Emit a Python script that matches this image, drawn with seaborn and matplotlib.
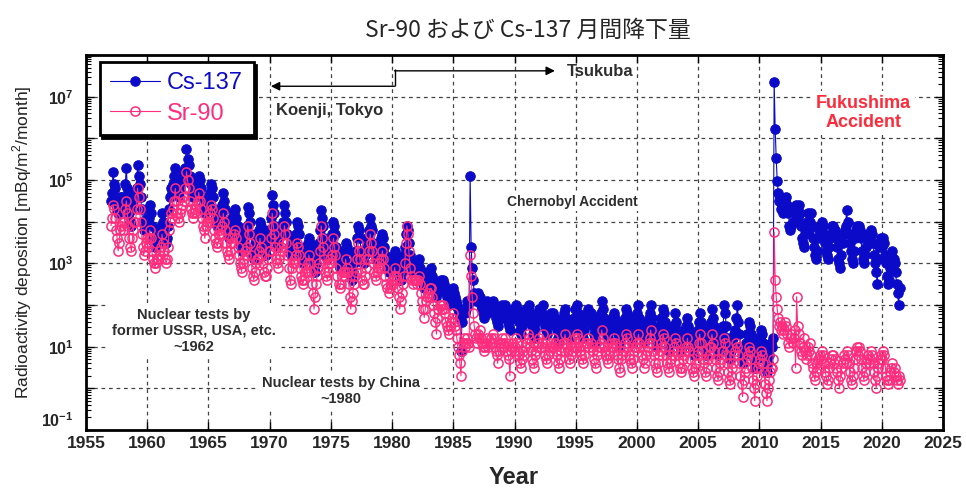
import numpy as np
import pandas as pd
import matplotlib
matplotlib.use("Agg")
import matplotlib.pyplot as plt
import seaborn as sns
from matplotlib.ticker import FixedLocator, FuncFormatter, LogLocator, NullFormatter

# ---------------- data (log10 of mBq/m2/month), monthly from Jan 1957 ----------------
start_year = 1957
cs137_log10 = [
    4.5, 4.7, 5.2, 4.9, 4.8, 4.4, 4.3, 4.2, 4.4, 4.6, 4.5, 4.6,   # 1957
    4.4, 4.6, 4.9, 5.3, 4.8, 4.6, 4.2, 4.0, 3.9, 4.3, 4.5, 4.7,   # 1958
    4.6, 4.8, 5.35, 5.1, 4.9, 4.6, 4.3, 4.0, 3.8, 3.9, 4.0, 4.1,  # 1959
    3.9, 4.1, 4.4, 4.2, 3.9, 3.6, 3.5, 3.4, 3.5, 3.7, 3.6, 3.8,   # 1960
    3.7, 3.9, 4.2, 4.0, 3.8, 3.6, 3.5, 3.6, 3.9, 4.3, 4.6, 4.8,   # 1961
    4.7, 4.9, 5.1, 5.3, 5.0, 4.8, 4.7, 4.6, 4.8, 4.9, 5.0, 5.2,   # 1962
    5.1, 5.3, 5.75, 5.5, 5.35, 5.1, 4.9, 4.7, 4.6, 4.7, 4.8, 4.9, # 1963
    4.8, 5.0, 5.1, 5.0, 4.8, 4.6, 4.4, 4.3, 4.2, 4.4, 4.5, 4.6,   # 1964
    4.5, 4.7, 4.9, 4.8, 4.6, 4.3, 4.1, 4.0, 3.9, 4.0, 4.2, 4.3,   # 1965
    4.2, 4.4, 4.7, 4.5, 4.3, 4.0, 3.8, 3.7, 3.6, 3.8, 4.0, 4.1,   # 1966
    4.0, 4.2, 4.3, 4.1, 3.9, 3.7, 3.5, 3.4, 3.3, 3.5, 3.6, 3.8,   # 1967
    3.7, 3.9, 4.35, 4.2, 4.0, 3.7, 3.4, 3.2, 3.1, 3.3, 3.5, 3.6,  # 1968
    3.6, 3.8, 4.0, 3.9, 3.7, 3.5, 3.3, 3.2, 3.2, 3.4, 3.6, 3.8,   # 1969
    3.8, 4.1, 4.65, 4.4, 4.2, 3.9, 3.6, 3.5, 3.4, 3.6, 3.7, 3.9,  # 1970
    3.8, 4.0, 4.4, 4.2, 4.0, 3.7, 3.4, 3.3, 3.2, 3.4, 3.5, 3.6,   # 1971
    3.5, 3.7, 4.0, 3.9, 3.7, 3.4, 3.2, 3.1, 3.0, 3.1, 3.3, 3.4,   # 1972
    3.3, 3.5, 3.6, 3.5, 3.3, 3.1, 2.9, 2.9, 2.8, 3.0, 3.2, 3.4,   # 1973
    3.5, 3.8, 4.27, 4.1, 3.9, 3.6, 3.3, 3.2, 3.1, 3.3, 3.5, 3.6,  # 1974
    3.5, 3.7, 4.0, 3.9, 3.7, 3.4, 3.2, 3.0, 2.9, 3.0, 3.2, 3.3,   # 1975
    3.2, 3.3, 3.5, 3.4, 3.3, 3.0, 2.8, 2.7, 2.6, 2.8, 3.0, 3.2,   # 1976
    3.3, 3.6, 3.9, 3.8, 3.6, 3.3, 3.1, 3.0, 3.0, 3.2, 3.4, 3.6,   # 1977
    3.6, 3.8, 4.1, 3.9, 3.8, 3.5, 3.3, 3.2, 3.1, 3.3, 3.4, 3.5,   # 1978
    3.4, 3.6, 3.7, 3.6, 3.4, 3.2, 3.0, 2.9, 2.8, 2.9, 3.0, 3.1,   # 1979
    3.0, 3.2, 3.3, 3.2, 3.1, 2.9, 2.7, 2.6, 2.6, 2.8, 3.0, 3.2,   # 1980
    3.4, 3.7, 3.9, 3.8, 3.5, 3.2, 3.0, 2.9, 2.8, 2.9, 3.0, 3.0,   # 1981
    2.9, 3.0, 3.1, 2.9, 2.8, 2.6, 2.5, 2.4, 2.5, 2.6, 2.7, 2.8,   # 1982
    2.7, 2.8, 2.9, 2.7, 2.6, 2.4, 2.3, 2.2, 2.3, 2.4, 2.5, 2.6,   # 1983
    2.5, 2.6, 2.5, 2.4, 2.3, 2.2, 2.1, 2.0, 2.1, 2.2, 2.3, 2.4,   # 1984
    2.3, 2.2, 2.1, 2.0, 1.9, 1.8, 1.7, 0.9, 1.6, 1.8, 1.9, 1.8,   # 1985
    1.9, 2.1, 2.0, 2.1, 5.1, 3.4, 2.9, 2.6, 2.3, 2.2, 2.1, 2.2,   # 1986
    2.3, 2.1, 2.2, 2.0, 1.9, 1.8, 1.7, 1.9, 2.0, 2.1, 1.8, 1.9,   # 1987
    2.0, 1.9, 2.1, 2.0, 1.8, 1.7, 1.6, 1.5, 1.8, 1.9, 1.7, 2.0,   # 1988
    1.9, 1.8, 2.0, 1.9, 1.7, 1.6, 1.5, 1.4, 1.7, 1.8, 1.9, 1.7,   # 1989
    1.8, 2.0, 1.9, 1.7, 1.6, 1.4, 1.3, 1.5, 1.7, 1.6, 1.8, 1.9,   # 1990
    1.7, 1.9, 2.0, 1.8, 1.6, 1.5, 1.3, 1.2, 1.4, 1.6, 1.7, 1.8,   # 1991
    1.9, 1.7, 1.8, 2.0, 1.7, 1.5, 1.4, 1.3, 1.5, 1.7, 1.6, 1.8,   # 1992
    1.7, 1.8, 1.6, 1.7, 1.5, 1.4, 1.2, 1.1, 1.3, 1.5, 1.6, 1.7,   # 1993
    1.8, 1.9, 1.7, 1.6, 1.5, 1.3, 1.2, 1.4, 1.6, 1.5, 1.7, 1.9,   # 1994
    1.7, 2.0, 1.8, 1.6, 1.5, 1.4, 1.3, 1.2, 1.4, 1.6, 1.7, 1.8,   # 1995
    1.9, 1.7, 1.8, 1.7, 1.5, 1.3, 1.2, 1.1, 1.4, 1.5, 1.7, 1.6,   # 1996
    1.8, 2.1, 1.9, 1.7, 1.5, 1.4, 1.3, 1.2, 1.4, 1.5, 1.6, 1.7,   # 1997
    1.6, 1.8, 1.7, 1.6, 1.4, 1.3, 1.1, 1.0, 1.2, 1.4, 1.5, 1.6,   # 1998
    1.7, 1.9, 1.8, 1.6, 1.4, 1.3, 1.2, 1.1, 1.3, 1.5, 1.7, 1.6,   # 1999
    1.8, 2.0, 1.7, 1.6, 1.4, 1.3, 1.1, 1.2, 1.4, 1.5, 1.6, 1.7,   # 2000
    1.8, 2.0, 1.7, 1.5, 1.4, 1.2, 1.1, 1.0, 1.2, 1.3, 1.5, 1.7,   # 2001
    1.6, 1.9, 1.8, 1.6, 1.4, 1.2, 1.0, 0.9, 1.1, 1.3, 1.4, 1.5,   # 2002
    1.5, 1.8, 1.6, 1.4, 1.3, 1.1, 1.0, 0.9, 1.0, 1.2, 1.3, 1.4,   # 2003
    1.5, 1.7, 1.5, 1.4, 1.2, 1.0, 0.9, 0.8, 1.0, 1.1, 1.3, 1.4,   # 2004
    1.6, 1.8, 1.6, 1.4, 1.2, 1.1, 0.9, 0.8, 1.0, 1.2, 1.3, 1.5,   # 2005
    1.6, 1.9, 1.7, 1.5, 1.3, 1.1, 0.9, 0.8, 0.9, 1.1, 1.2, 1.4,   # 2006
    1.5, 2.0, 1.8, 1.5, 1.2, 1.0, 0.8, 0.7, 0.9, 1.0, 1.2, 1.3,   # 2007
    1.4, 1.7, 2.0, 1.6, 1.3, 1.0, 0.8, 0.6, 0.8, 1.0, 1.1, 1.3,   # 2008
    1.3, 1.6, 1.5, 1.3, 1.1, 0.9, 0.7, 0.5, 0.7, 0.9, 1.0, 1.2,   # 2009
    1.2, 1.4, 1.3, 1.1, 0.9, 0.7, 0.5, 0.4, 0.6, 0.8, 1.0, 1.1,   # 2010
    1.0, 1.2, 7.36, 6.23, 5.53, 4.98, 4.7, 4.5, 4.6, 4.3, 4.4, 4.2,  # 2011
    4.3, 4.5, 4.6, 4.4, 4.2, 3.9, 3.8, 3.9, 4.0, 4.3, 4.2, 4.4,   # 2012
    4.3, 4.1, 4.4, 4.2, 3.9, 3.6, 3.5, 3.4, 3.7, 3.9, 4.0, 4.2,   # 2013
    3.8, 4.0, 4.2, 3.9, 3.6, 3.4, 3.2, 3.1, 3.3, 3.6, 3.8, 3.9,   # 2014
    3.7, 4.0, 3.9, 3.7, 3.5, 3.3, 3.2, 3.1, 3.4, 3.6, 3.7, 3.9,   # 2015
    3.9, 3.7, 3.8, 3.6, 3.4, 3.1, 3.0, 2.9, 3.2, 3.5, 3.7, 3.8,   # 2016
    3.9, 4.27, 4.0, 3.7, 3.5, 3.3, 3.1, 3.0, 3.3, 3.6, 3.8, 3.9,  # 2017
    3.7, 3.9, 3.8, 3.6, 3.3, 3.1, 3.0, 3.2, 3.4, 3.6, 3.7, 3.6,   # 2018
    3.5, 3.8, 3.7, 3.5, 3.2, 3.0, 2.8, 2.5, 3.1, 3.4, 3.5, 3.6,   # 2019
    3.4, 3.6, 3.5, 3.2, 3.0, 2.7, 2.5, 2.6, 2.9, 3.2, 3.3, 3.1,   # 2020
    3.0, 2.8, 2.5, 2.3, 2.0, 2.4,                                 # 2021
]
sr90_log10 = [
    3.9, 4.1, 4.4, 4.3, 4.1, 3.8, 3.6, 3.3, 3.5, 3.8, 3.9, 4.0,   # 1957
    3.8, 4.0, 4.3, 4.5, 4.2, 3.9, 3.6, 3.4, 3.3, 3.6, 3.8, 4.0,   # 1958
    4.0, 4.3, 4.8, 4.6, 4.3, 4.0, 3.7, 3.4, 3.2, 3.3, 3.5, 3.6,   # 1959
    3.4, 3.6, 3.8, 3.6, 3.3, 3.1, 3.0, 2.9, 3.0, 3.1, 3.1, 3.3,   # 1960
    3.2, 3.4, 3.7, 3.5, 3.3, 3.1, 3.0, 3.1, 3.4, 3.8, 4.0, 4.2,   # 1961
    4.1, 4.3, 4.5, 4.8, 4.5, 4.2, 4.1, 4.0, 4.2, 4.3, 4.4, 4.6,   # 1962
    4.5, 4.8, 5.2, 5.0, 4.8, 4.5, 4.3, 4.2, 4.1, 4.2, 4.3, 4.4,   # 1963
    4.2, 4.5, 4.7, 4.5, 4.3, 4.1, 3.9, 3.8, 3.6, 3.9, 4.0, 4.1,   # 1964
    4.0, 4.2, 4.4, 4.3, 4.1, 3.8, 3.6, 3.5, 3.4, 3.5, 3.7, 3.8,   # 1965
    3.7, 3.9, 4.2, 4.0, 3.8, 3.5, 3.3, 3.2, 3.1, 3.3, 3.5, 3.6,   # 1966
    3.5, 3.7, 3.8, 3.6, 3.4, 3.2, 3.0, 2.9, 2.8, 3.0, 3.1, 3.3,   # 1967
    3.2, 3.4, 3.9, 3.7, 3.5, 3.2, 2.9, 2.7, 2.6, 2.8, 3.0, 3.1,   # 1968
    3.1, 3.3, 3.6, 3.4, 3.2, 3.0, 2.8, 2.7, 2.7, 2.9, 3.1, 3.3,   # 1969
    3.3, 3.6, 4.2, 3.9, 3.7, 3.4, 3.1, 3.0, 2.9, 3.1, 3.2, 3.4,   # 1970
    3.3, 3.5, 3.9, 3.7, 3.5, 3.2, 2.9, 2.6, 2.5, 2.9, 3.0, 3.1,   # 1971
    3.0, 3.2, 3.5, 3.4, 3.2, 2.9, 2.7, 2.6, 2.5, 2.6, 2.8, 2.9,   # 1972
    2.8, 3.0, 3.2, 3.0, 2.8, 2.5, 2.3, 1.9, 2.2, 2.5, 2.7, 2.9,   # 1973
    3.0, 3.3, 3.9, 3.6, 3.4, 3.1, 2.8, 2.7, 2.6, 2.8, 3.0, 3.1,   # 1974
    3.0, 3.2, 3.6, 3.4, 3.2, 2.9, 2.7, 2.5, 2.4, 2.5, 2.7, 2.8,   # 1975
    2.7, 2.8, 3.1, 2.9, 2.8, 2.5, 2.2, 1.9, 2.1, 2.3, 2.5, 2.7,   # 1976
    2.8, 3.1, 3.5, 3.3, 3.1, 2.8, 2.6, 2.5, 2.5, 2.7, 2.9, 3.1,   # 1977
    3.1, 3.3, 3.7, 3.5, 3.3, 3.0, 2.8, 2.7, 2.6, 2.8, 2.9, 3.0,   # 1978
    2.9, 3.1, 3.3, 3.1, 2.9, 2.7, 2.5, 2.4, 2.3, 2.4, 2.5, 2.6,   # 1979
    2.5, 2.7, 2.9, 2.7, 2.6, 2.4, 2.2, 1.9, 2.1, 2.3, 2.5, 2.7,   # 1980
    3.0, 3.5, 3.9, 3.7, 3.3, 2.9, 2.7, 2.6, 2.5, 2.6, 2.6, 2.6,   # 1981
    2.5, 2.6, 2.7, 2.5, 2.3, 2.1, 1.9, 1.7, 1.9, 2.1, 2.2, 2.3,   # 1982
    2.2, 2.4, 2.4, 2.2, 2.0, 1.8, 1.6, 1.3, 1.7, 1.9, 2.0, 2.0,   # 1983
    1.9, 2.0, 1.9, 1.8, 1.6, 1.5, 1.4, 1.3, 1.5, 1.6, 1.7, 1.8,   # 1984
    1.6, 1.5, 1.4, 1.2, 1.0, 0.8, 0.6, 0.3, 0.9, 1.1, 1.2, 1.0,   # 1985
    1.1, 1.2, 1.1, 1.0, 3.2, 2.7, 2.2, 1.8, 1.5, 1.3, 1.2, 1.1,   # 1986
    1.3, 1.2, 1.4, 1.2, 1.1, 1.0, 0.9, 1.0, 1.1, 1.2, 1.0, 1.1,   # 1987
    1.2, 1.1, 1.3, 1.2, 1.0, 0.9, 0.8, 0.6, 0.9, 1.1, 1.0, 1.2,   # 1988
    1.1, 1.0, 1.2, 1.1, 0.9, 0.8, 0.7, 0.3, 0.9, 1.0, 1.1, 0.9,   # 1989
    1.0, 1.2, 1.1, 0.9, 0.8, 0.6, 0.5, 0.7, 0.9, 0.8, 1.0, 1.1,   # 1990
    1.1, 1.3, 1.2, 1.0, 0.9, 0.7, 0.6, 0.5, 0.8, 0.9, 1.0, 1.1,   # 1991
    1.2, 1.0, 1.1, 1.3, 1.0, 0.8, 0.7, 0.6, 0.8, 1.0, 0.9, 1.1,   # 1992
    1.0, 1.2, 1.0, 1.1, 0.9, 0.8, 0.6, 0.5, 0.7, 0.9, 1.0, 1.1,   # 1993
    1.1, 1.3, 1.1, 1.0, 0.9, 0.7, 0.6, 0.8, 1.0, 0.9, 1.0, 1.2,   # 1994
    1.0, 1.3, 1.2, 1.0, 0.9, 0.8, 0.7, 0.6, 0.8, 1.0, 1.1, 1.1,   # 1995
    1.2, 1.0, 1.1, 1.0, 0.9, 0.7, 0.6, 0.5, 0.8, 0.9, 1.0, 1.0,   # 1996
    1.1, 1.4, 1.2, 1.0, 0.9, 0.8, 0.7, 0.6, 0.8, 0.9, 1.0, 1.1,   # 1997
    1.0, 1.2, 1.1, 1.0, 0.8, 0.7, 0.5, 0.4, 0.7, 0.8, 0.9, 1.0,   # 1998
    1.1, 1.3, 1.2, 1.0, 0.8, 0.7, 0.6, 0.5, 0.7, 0.9, 1.0, 1.0,   # 1999
    1.1, 1.3, 1.1, 1.0, 0.8, 0.7, 0.5, 0.6, 0.8, 0.9, 1.0, 1.1,   # 2000
    1.2, 1.4, 1.1, 0.9, 0.8, 0.6, 0.5, 0.4, 0.6, 0.8, 0.9, 1.1,   # 2001
    1.0, 1.3, 1.2, 1.0, 0.8, 0.6, 0.5, 0.4, 0.6, 0.7, 0.8, 0.9,   # 2002
    1.0, 1.2, 1.1, 0.9, 0.8, 0.6, 0.5, 0.4, 0.5, 0.7, 0.8, 0.9,   # 2003
    1.0, 1.2, 1.0, 0.9, 0.7, 0.5, 0.4, 0.3, 0.5, 0.6, 0.8, 0.9,   # 2004
    1.1, 1.3, 1.1, 0.9, 0.7, 0.6, 0.4, 0.3, 0.5, 0.7, 0.8, 1.0,   # 2005
    1.0, 1.3, 1.1, 0.9, 0.7, 0.5, 0.3, 0.2, 0.4, 0.6, 0.7, 0.9,   # 2006
    0.9, 1.2, 1.1, 0.8, 0.6, 0.4, 0.2, 0.1, 0.3, 0.5, 0.6, 0.8,   # 2007
    0.9, 1.1, 1.0, 0.8, 0.6, 0.3, 0.1, -0.2, 0.2, 0.4, 0.5, 0.7,  # 2008
    0.8, 1.0, 0.9, 0.7, 0.5, 0.2, 0.0, -0.3, 0.1, 0.3, 0.5, 0.6,  # 2009
    0.7, 0.9, 0.8, 0.6, 0.4, 0.1, -0.1, -0.3, 0.0, 0.2, 0.4, 0.5, # 2010
    0.5, 0.7, 3.75, 2.6, 2.2, 1.9, 1.7, 1.5, 1.6, 1.4, 1.5, 1.3,  # 2011
    1.4, 1.6, 1.5, 1.3, 1.1, 1.0, 1.2, 1.3, 1.1, 1.2, 1.4, 0.5,   # 2012
    2.2, 1.5, 1.3, 1.1, 0.9, 0.8, 1.0, 1.2, 0.9, 0.7, 0.8, 1.0,   # 2013
    0.9, 1.1, 0.8, 0.6, 0.5, 0.3, 0.2, 0.4, 0.6, 0.7, 0.5, 0.8,   # 2014
    0.7, 0.9, 0.8, 0.6, 0.4, 0.3, 0.1, 0.2, 0.5, 0.6, 0.7, 0.8,   # 2015
    0.8, 0.6, 0.7, 0.5, 0.4, 0.2, 0.0, 0.3, 0.5, 0.6, 0.8, 0.7,   # 2016
    0.6, 0.9, 0.8, 0.6, 0.4, 0.2, 0.1, 0.3, 0.5, 0.7, 0.9, 1.0,   # 2017
    0.8, 1.0, 0.9, 0.7, 0.5, 0.3, 0.2, 0.4, 0.6, 0.7, 0.8, 0.6,   # 2018
    0.7, 0.9, 0.8, 0.6, 0.4, 0.2, 0.0, 0.3, 0.5, 0.6, 0.7, 0.8,   # 2019
    0.7, 0.9, 0.8, 0.5, 0.3, 0.2, 0.1, 0.2, 0.4, 0.5, 0.6, 0.4,   # 2020
    0.5, 0.3, 0.2, 0.1, 0.3, 0.2,                                 # 2021
]
series_labels = ["Cs-137", "Sr-90"]
x_ticks = list(range(1955, 2030, 5))
y_label_exponents = [-1, 1, 3, 5, 7]

# ---------------- styling ----------------
CS_COLOR = "#0a0ac8"
SR_COLOR = "#ff2d7d"
FUKU_COLOR = "#ff2a3a"
TXT_GRAY = "#2e2e2e"

sns.set_style("ticks")
plt.rcParams["font.family"] = ["Liberation Sans", "DejaVu Sans"]
plt.rcParams["mathtext.fontset"] = "custom"
plt.rcParams["mathtext.rm"] = "Liberation Sans"
plt.rcParams["mathtext.bf"] = "Liberation Sans:bold"

fig = plt.figure(figsize=(9.66, 4.92), dpi=100)
ax = fig.add_axes([86 / 966, 1 - 430 / 492, (943 - 86) / 966, (430 - 55) / 492])

def month_axis(vals):
    return start_year + (np.arange(len(vals)) + 0.5) / 12.0

df_cs = pd.DataFrame({"Year": month_axis(cs137_log10),
                      "Deposition": np.power(10.0, cs137_log10)})
df_sr = pd.DataFrame({"Year": month_axis(sr90_log10),
                      "Deposition": np.power(10.0, sr90_log10)})

sns.lineplot(data=df_cs, x="Year", y="Deposition", ax=ax, estimator=None, sort=False,
             color=CS_COLOR, lw=0.8, marker="o", markersize=6.8,
             markerfacecolor=CS_COLOR, markeredgecolor=CS_COLOR, markeredgewidth=0.8,
             label=series_labels[0], zorder=3)
sns.lineplot(data=df_sr, x="Year", y="Deposition", ax=ax, estimator=None, sort=False,
             color=SR_COLOR, lw=0.8, marker="o", markersize=6.6,
             markerfacecolor="none", markeredgecolor=SR_COLOR, markeredgewidth=1.1,
             label=series_labels[1], zorder=4)

ax.set_yscale("log")
ax.set_xlim(1955, 2025)
ax.set_ylim(1e-1, 1e8)
ax.set_xlabel("")
ax.set_ylabel("")

ax.xaxis.set_major_locator(FixedLocator(x_ticks))
ax.yaxis.set_major_locator(FixedLocator([10.0 ** e for e in range(-1, 9)]))
ax.yaxis.set_minor_locator(LogLocator(base=10, subs=np.arange(2, 10), numticks=50))
ax.yaxis.set_minor_formatter(NullFormatter())

def ylab(v, pos):
    e = int(round(np.log10(v)))
    return r"$\mathbf{10^{%d}}$" % e if e in y_label_exponents else ""

ax.yaxis.set_major_formatter(FuncFormatter(ylab))
ax.tick_params(axis="both", which="both", direction="in", top=True, right=True, color="k")
ax.tick_params(axis="both", which="major", length=6, width=1.0)
ax.tick_params(axis="y", which="minor", length=3.5, width=0.8)
ax.tick_params(axis="x", which="major", labelsize=12.5, pad=4.5)
ax.tick_params(axis="y", which="major", labelsize=11.5, pad=9)
for lab in ax.get_xticklabels():
    lab.set_fontweight("bold")
# lift the bottom y label slightly so it clears the year labels
for lab in ax.get_yticklabels():
    if lab.get_text() and "-1" in lab.get_text():
        lab.set_verticalalignment("bottom")

ax.grid(True, which="major", axis="both", color="#444444", lw=0.9, ls=(0, (3, 3)))
ax.set_axisbelow(True)
for sp in ax.spines.values():
    sp.set_linewidth(2.0)
    sp.set_color("black")

# legend
handles, labels = ax.get_legend_handles_labels()
leg = ax.legend(handles, labels, loc="upper left", bbox_to_anchor=(0.016, 0.982),
                borderaxespad=0, fontsize=17, frameon=True, fancybox=False,
                edgecolor="black", framealpha=1, handlelength=2.1, handletextpad=0.3,
                borderpad=0.45, labelspacing=0.35, shadow={"color": "black", "alpha": 1})
leg.get_frame().set_linewidth(2.0)
for txt, col in zip(leg.get_texts(), [CS_COLOR, SR_COLOR]):
    txt.set_color(col)
leg.set_zorder(10)

# annotations
ax.vlines(1980.2, 10 ** 7.25, 10 ** 7.66, color="black", lw=1.0, zorder=6)
ax.annotate("", xy=(1970.1, 10 ** 7.25), xytext=(1980.2, 10 ** 7.25),
            arrowprops=dict(arrowstyle="-|>", color="black", lw=1.0, mutation_scale=13,
                            shrinkA=0, shrinkB=0), zorder=6)
ax.annotate("", xy=(1993.3, 10 ** 7.62), xytext=(1980.2, 10 ** 7.62),
            arrowprops=dict(arrowstyle="-|>", color="black", lw=1.0, mutation_scale=13,
                            shrinkA=0, shrinkB=0), zorder=6)
ax.text(1994.3, 10 ** 7.6, "Tsukuba", fontsize=12, fontweight="bold", color=TXT_GRAY,
        ha="left", va="center", zorder=7)
ax.text(1970.5, 10 ** 6.66, "Koenji, Tokyo", fontsize=12, fontweight="bold", color=TXT_GRAY,
        ha="left", va="center", zorder=7)
ax.text(1994.7, 10 ** 4.47, "Chernobyl Accident", fontsize=10, fontweight="bold",
        color=TXT_GRAY, ha="center", va="center", zorder=7,
        bbox=dict(facecolor="white", edgecolor="none", pad=1.5))
ax.text(2018.5, 10 ** 6.6, "Fukushima\nAccident", fontsize=13, fontweight="bold",
        color=FUKU_COLOR, ha="center", va="center", linespacing=1.15, zorder=7,
        bbox=dict(facecolor="white", edgecolor="none", pad=3))
ax.text(1963.8, 10 ** 1.38, "Nuclear tests by\nformer USSR, USA, etc.\n~1962", fontsize=10.5,
        fontweight="bold", color=TXT_GRAY, ha="center", va="center", linespacing=1.2,
        zorder=7, bbox=dict(facecolor="white", edgecolor="none", pad=3))
ax.text(1975.8, 10 ** -0.06, "Nuclear tests by China\n~1980", fontsize=10.5,
        fontweight="bold", color=TXT_GRAY, ha="center", va="center", linespacing=1.2,
        zorder=7, bbox=dict(facecolor="white", edgecolor="none", pad=2))

# titles and axis labels
fig.text(528 / 966, 1 - 30 / 492, "Sr-90 および Cs-137 月間降下量", fontsize=16.5,
         family=["Noto Sans CJK JP", "DejaVu Sans"], ha="center", va="center")
fig.text(514 / 966, 1 - 478 / 492, "Year", fontsize=17, fontweight="bold",
         ha="center", va="center")
fig.text(22 / 966, 1 - 242 / 492, "Radioactivity deposition [mBq/m$^2$/month]",
         fontsize=12.5, rotation=90, ha="center", va="center", color="#222222")

fig.savefig("out.png", dpi=100)
